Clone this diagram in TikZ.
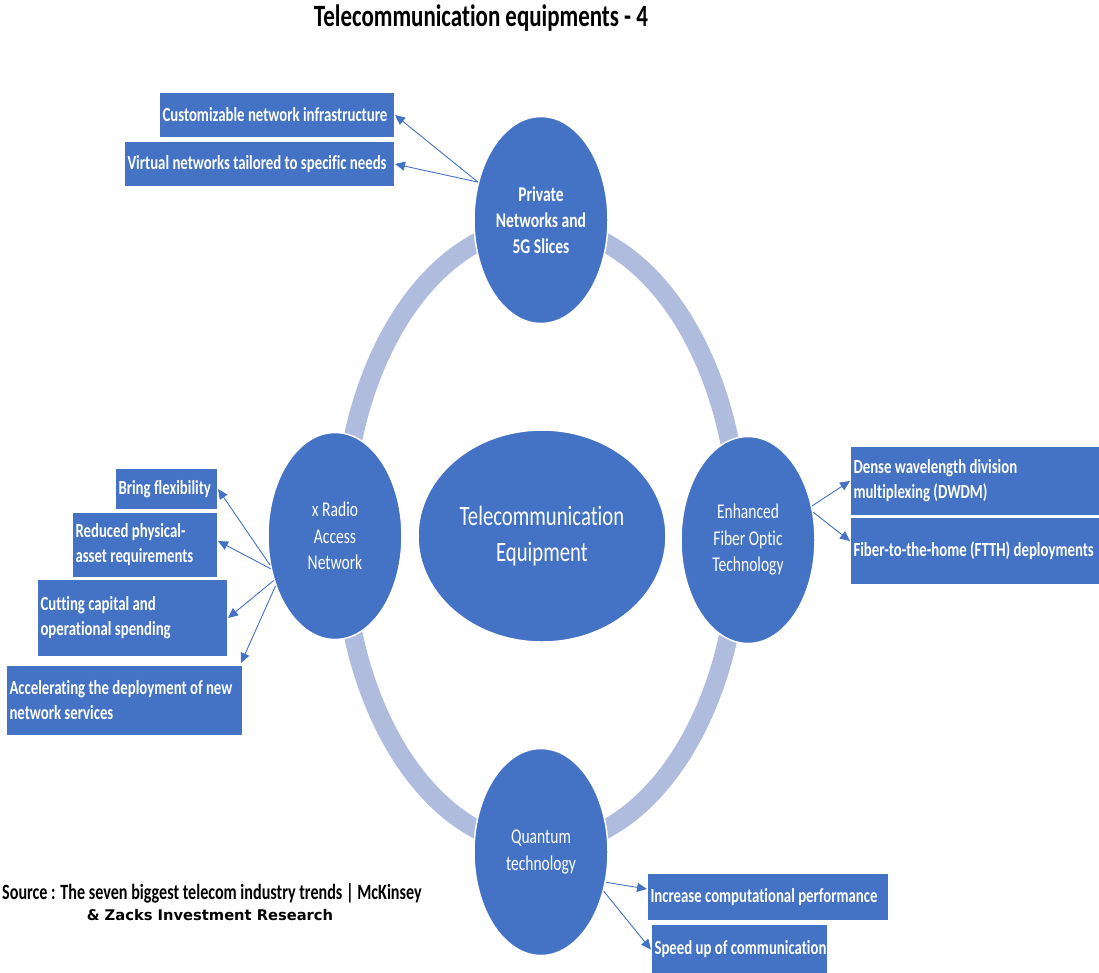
\documentclass[tikz,border=0pt]{standalone}
\usepackage{fontspec}
\setmainfont{Carlito}[FakeStretch=0.74,RawFeature=-liga]
\newfontfamily\zackfont{DejaVu Sans}
\usetikzlibrary{shapes.geometric,arrows.meta}
\definecolor{mainblue}{HTML}{4472C4}
\definecolor{ringblue}{HTML}{B0BCDE}
\begin{document}
\begin{tikzpicture}[x=1pt,y=-1pt,
  hub/.style={ellipse, fill=mainblue, draw=white, line width=1.5pt, text=white, align=flush center, inner sep=0pt,
    minimum width=134pt, minimum height=207pt, font=\fontsize{21}{26.5}\selectfont},
  infobox/.style={rectangle, fill=mainblue, draw=white, line width=1pt, text=white, align=flush left,
    inner xsep=3pt, inner ysep=0pt, anchor=north west, font=\bfseries\fontsize{20}{25}\selectfont},
  link/.style={draw=mainblue, line width=0.9pt, -{Triangle[length=10pt,width=9pt]}}
]
\useasboundingbox (0,0) rectangle (1099,972);
\fill[white] (0,0) rectangle (1099,972);

% ring
\draw[ringblue, line width=19pt] (541,536) ellipse [x radius=198pt, y radius=310pt];

% hubs
\node[hub, font=\bfseries\fontsize{21}{26}\selectfont] (top) at (541,220) {Private\\Networks and\\5G Slices};
\node[hub] (left) at (335,536) {x Radio\\Access\\Network};
\node[hub] (right) at (748,540) {Enhanced\\Fiber Optic\\Technology};
\node[hub] (bottom) at (541,852) {Quantum\\technology};
\node[hub, minimum width=248pt, minimum height=212pt, font=\fontsize{28}{36}\selectfont] (center) at (542,536) {Telecommunication\\Equipment};

% boxes
\node[infobox, minimum width=235pt, minimum height=45pt, text width=229pt] (b1) at (159,92) {\mbox{Customizable network infrastructure}};
\node[infobox, minimum width=270pt, minimum height=45pt, text width=264pt] (b2) at (124,141) {\mbox{Virtual networks tailored to specific needs}};

\node[infobox, minimum width=102pt, minimum height=41pt, text width=96pt] (l1) at (115,468) {\mbox{Bring flexibility}};
\node[infobox, minimum width=145pt, minimum height=65pt, text width=139pt] (l2) at (72,512) {\mbox{Reduced physical-}\\\mbox{asset requirements}};
\node[infobox, minimum width=190pt, minimum height=77pt, text width=184pt] (l3) at (37,579) {\mbox{Cutting capital and}\\\mbox{operational spending}};
\node[infobox, minimum width=236pt, minimum height=70pt, text width=230pt] (l4) at (6,665) {\mbox{Accelerating the deployment of new}\\\mbox{network services}};

\node[infobox, minimum width=251pt, minimum height=69pt, text width=245pt] (r1) at (850,446) {\mbox{Dense wavelength division}\\\mbox{multiplexing (DWDM)}};
\node[infobox, minimum width=251pt, minimum height=67pt, text width=245pt] (r2) at (850,517) {\mbox{Fiber-to-the-home (FTTH) deployments}};

\node[infobox, minimum width=241pt, minimum height=47pt, text width=235pt] (q1) at (647,873) {\mbox{Increase computational performance}};
\node[infobox, minimum width=176pt, minimum height=50pt, text width=170pt] (q2) at (651,924) {\mbox{Speed up of communication}};

% connectors
\draw[link] (top.149) -- (b1.east);
\draw[link] (top.149) -- (b2.east);
\draw[link] (left.204) -- (l1.east);
\draw[link] (left.207) -- ([yshift=4pt]l2.east);
\draw[link] (left.216) -- (l3.east);
\draw[link] (left.220) -- ([xshift=-2pt,yshift=2pt]l4.north east);
\draw[link] (right.28) -- (r1.west);
\draw[link] (right.23) -- ([yshift=10pt]r2.west);
\draw[link] (bottom.335) -- ([yshift=8pt]q1.west);
\draw[link] (bottom.328) -- (q2.west);

% texts
\node[font=\bfseries\fontsize{31}{36}\selectfont] (title) at (481,18) {Telecommunication equipments - 4};
\node[anchor=west, inner sep=0pt, font=\bfseries\fontsize{21.8}{24}\selectfont] (src) at (2,893) {Source : The seven biggest telecom industry trends | McKinsey};
\node[inner sep=0pt, font=\zackfont\bfseries\fontsize{14.7}{17}\selectfont] (zacks) at (210,915) {\& Zacks Investment Research};
\end{tikzpicture}
\end{document}
